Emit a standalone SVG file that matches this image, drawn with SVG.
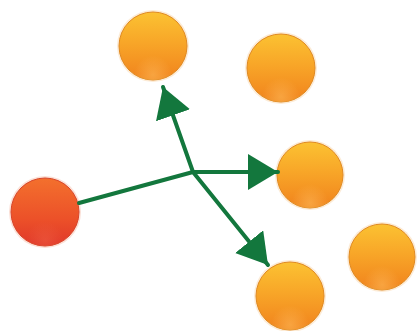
<svg xmlns="http://www.w3.org/2000/svg" width="418" height="331" viewBox="0 0 418 331">
<defs>
<linearGradient id="gOr" x1="0" y1="0" x2="0" y2="1">
<stop offset="0" stop-color="#fbc232"/>
<stop offset="0.45" stop-color="#f8a628"/>
<stop offset="0.9" stop-color="#f2891f"/>
<stop offset="1" stop-color="#f08b24"/>
</linearGradient>
<linearGradient id="gRd" x1="0" y1="0" x2="0" y2="1">
<stop offset="0" stop-color="#f3702d"/>
<stop offset="0.6" stop-color="#ec5129"/>
<stop offset="1" stop-color="#e0372a"/>
</linearGradient>
<radialGradient id="gHi" cx="0.5" cy="0.92" r="0.28">
<stop offset="0" stop-color="#ffbf60" stop-opacity="0.5"/>
<stop offset="1" stop-color="#ffbf60" stop-opacity="0"/>
</radialGradient>
<radialGradient id="gHiR" cx="0.5" cy="0.92" r="0.28">
<stop offset="0" stop-color="#f26a4a" stop-opacity="0.4"/>
<stop offset="1" stop-color="#f26a4a" stop-opacity="0"/>
</radialGradient>
<marker id="ah" markerUnits="userSpaceOnUse" markerWidth="32" markerHeight="38" refX="30" refY="18" orient="auto" viewBox="0 0 32 38">
<path d="M0,0 L30,18 L0,36 z" fill="#13773d"/>
</marker>
</defs>
<style>
.halo{fill:#fcebd6}
.haloR{fill:#fbe0d6}
.or{fill:url(#gOr);stroke:#e08a22;stroke-width:1}
.rd{fill:url(#gRd);stroke:#d8452a;stroke-width:1}
.hi{fill:url(#gHi)}
.hir{fill:url(#gHiR)}
.ln{fill:none;stroke:#13773d;stroke-width:4;stroke-linecap:round}
</style>
<rect width="418" height="331" fill="#ffffff"/>
<g id="source">
<circle class="haloR" cx="45" cy="212" r="36"/>
<circle class="rd" cx="45" cy="212" r="34"/>
<circle class="hir" cx="45" cy="212" r="34"/>
</g>
<g id="n1">
<circle class="halo" cx="153" cy="46" r="36"/>
<circle class="or" cx="153" cy="46" r="34"/>
<circle class="hi" cx="153" cy="46" r="34"/>
</g>
<g id="n2">
<circle class="halo" cx="281" cy="68" r="36"/>
<circle class="or" cx="281" cy="68" r="34"/>
<circle class="hi" cx="281" cy="68" r="34"/>
</g>
<g id="n3">
<circle class="halo" cx="310" cy="175" r="35"/>
<circle class="or" cx="310" cy="175" r="33"/>
<circle class="hi" cx="310" cy="175" r="33"/>
</g>
<g id="n4">
<circle class="halo" cx="382" cy="257" r="35"/>
<circle class="or" cx="382" cy="257" r="33"/>
<circle class="hi" cx="382" cy="257" r="33"/>
</g>
<g id="n5">
<circle class="halo" cx="290" cy="296" r="36"/>
<circle class="or" cx="290" cy="296" r="34"/>
<circle class="hi" cx="290" cy="296" r="34"/>
</g>
<g id="connectors">
<line class="ln" x1="79" y1="203" x2="193" y2="172"/>
<line class="ln" x1="193" y1="172" x2="163" y2="87" marker-end="url(#ah)"/>
<line class="ln" x1="193" y1="172" x2="278" y2="172" marker-end="url(#ah)"/>
<line class="ln" x1="193" y1="172" x2="268" y2="265" marker-end="url(#ah)"/>
</g>
</svg>
